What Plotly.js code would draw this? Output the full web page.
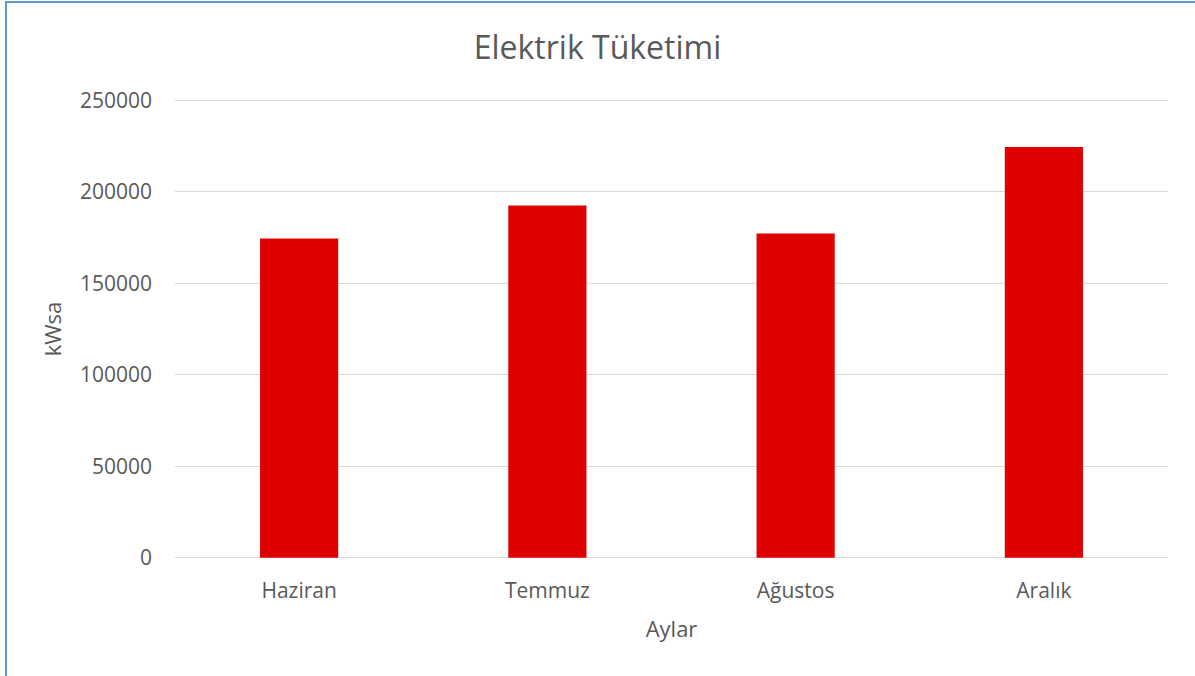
<!DOCTYPE html>
<html>
<head>
<meta charset="utf-8">
<script src="https://cdn.plot.ly/plotly-3.0.1.min.js"></script>
<style>
html,body{margin:0;padding:0;background:#fff;}
#wrap{position:relative;width:1195px;height:676px;overflow:hidden;}
#chart{width:1195px;height:676px;}
#frame{position:absolute;left:5px;top:1px;width:1200px;height:700px;border-left:2px solid #5B9BD5;border-top:2px solid #5B9BD5;pointer-events:none;}
</style>
</head>
<body>
<div id="wrap"><div id="chart"></div><div id="frame"></div></div>
<script>
const months = ["Haziran", "Temmuz", "Ağustos", "Aralık"];
const consumption = [174500, 192500, 177200, 224400];
const yTicks = [0, 50000, 100000, 150000, 200000, 250000];
const yTickLabels = ["0", "50000", "100000", "150000", "200000", "250000"];

const FONT = "Open Sans, Noto Sans, sans-serif";
const GREY = "#595959";

Plotly.newPlot("chart", [{
  type: "bar",
  x: months,
  y: consumption,
  marker: {color: "#DF0000"},
  hoverinfo: "x+y"
}], {
  width: 1195, height: 676,
  margin: {l: 175, r: 27, t: 99, b: 117},
  paper_bgcolor: "#fff", plot_bgcolor: "#fff",
  bargap: 0.685,
  showlegend: false,
  font: {family: FONT, color: GREY, size: 21},
  title: {text: "Elektrik Tüketimi", font: {family: FONT, size: 32, color: GREY}, x: 0.5, xanchor: "center", y: 0.93, yanchor: "middle"},
  xaxis: {
    title: {text: "Aylar", font: {family: FONT, size: 22, color: GREY}, standoff: 18},
    showgrid: false, zeroline: false, showline: false, ticks: "",
    ticklabelstandoff: 17,
    tickfont: {family: FONT, size: 21, color: GREY}
  },
  yaxis: {
    title: {text: "kWsa", font: {family: FONT, size: 22, color: GREY}, standoff: 12},
    range: [-700, 250700],
    tickvals: yTicks, ticktext: yTickLabels,
    showgrid: true, gridcolor: "#D9D9D9", gridwidth: 1.3,
    zeroline: false, showline: false, ticks: "",
    ticklabelstandoff: 22,
    tickfont: {family: FONT, size: 21, color: GREY}
  }
}, {displayModeBar: false, staticPlot: true});
</script>
</body>
</html>
